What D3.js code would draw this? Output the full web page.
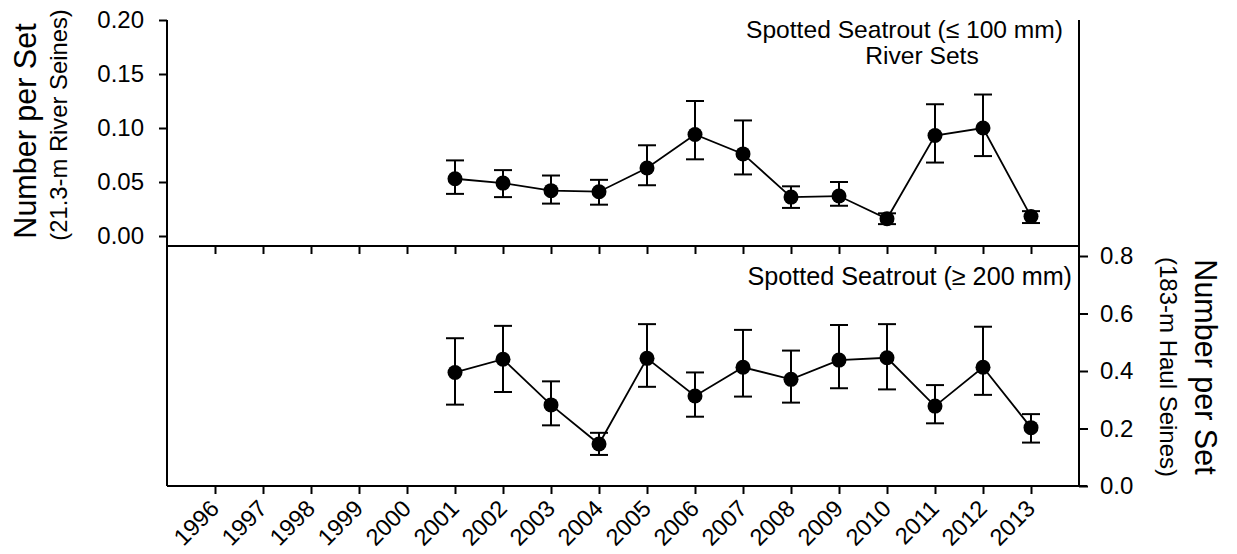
<!DOCTYPE html>
<html>
<head>
<meta charset="utf-8">
<script src="https://cdn.jsdelivr.net/npm/d3@7"></script>
<style>
  body { margin: 0; background: #fff; }
  svg text { font-family: "Liberation Sans", Arial, sans-serif; }
</style>
</head>
<body>
<svg id="chart" width="1237" height="554"></svg>
<script>
// years shown on the x axis
var years = [1996, 1997, 1998, 1999, 2000, 2001, 2002, 2003, 2004, 2005, 2006, 2007, 2008, 2009, 2010, 2011, 2012, 2013];

// top panel: spotted seatrout <= 100 mm, river sets
var riverYears = [2001, 2002, 2003, 2004, 2005, 2006, 2007, 2008, 2009, 2010, 2011, 2012, 2013];
var riverMean  = [0.053, 0.049, 0.042, 0.041, 0.063, 0.094, 0.076, 0.036, 0.037, 0.016, 0.093, 0.100, 0.018];
var riverHigh  = [0.070, 0.061, 0.056, 0.052, 0.084, 0.125, 0.107, 0.046, 0.050, 0.021, 0.122, 0.131, 0.023];
var riverLow   = [0.039, 0.036, 0.030, 0.029, 0.047, 0.071, 0.057, 0.026, 0.028, 0.011, 0.068, 0.074, 0.012];

// bottom panel: spotted seatrout >= 200 mm, haul seines
var haulYears = [2001, 2002, 2003, 2004, 2005, 2006, 2007, 2008, 2009, 2010, 2011, 2012, 2013];
var haulMean  = [0.395, 0.441, 0.282, 0.146, 0.444, 0.313, 0.413, 0.371, 0.438, 0.446, 0.278, 0.413, 0.203];
var haulHigh  = [0.514, 0.557, 0.364, 0.185, 0.563, 0.395, 0.543, 0.471, 0.560, 0.563, 0.351, 0.554, 0.250];
var haulLow   = [0.283, 0.327, 0.211, 0.108, 0.345, 0.241, 0.311, 0.290, 0.340, 0.336, 0.218, 0.317, 0.151];

var topTicks = [0, 0.05, 0.10, 0.15, 0.20];
var bottomTicks = [0, 0.2, 0.4, 0.6, 0.8];

var svg = d3.select("#chart");

var left = 167, right = 1079;
var topY0 = 20, midY = 246, botY = 486;

var x = d3.scaleLinear().domain([1995, 2014]).range([left, right]);
var yTop = d3.scaleLinear().domain([0, 0.2]).range([236, topY0]);
var yBot = d3.scaleLinear().domain([0, 0.8]).range([botY, 256]);

// frame lines
var frame = svg.append("g").attr("stroke", "#000").attr("stroke-width", 2);
frame.append("line").attr("x1", left).attr("x2", left).attr("y1", topY0).attr("y2", botY);
frame.append("line").attr("x1", right).attr("x2", right).attr("y1", topY0).attr("y2", botY);
frame.append("line").attr("x1", left).attr("x2", right).attr("y1", midY).attr("y2", midY);
frame.append("line").attr("x1", left).attr("x2", right + 8).attr("y1", botY).attr("y2", botY);

function styleAxis(size) {
  return function (g) {
    g.attr("font-family", null);
    g.select(".domain").remove();
    g.selectAll(".tick line").attr("stroke", "#000").attr("stroke-width", 2);
    g.selectAll(".tick text").attr("fill", "#000").style("font-size", size + "px");
  };
}

// left axis (top panel)
svg.append("g")
  .attr("transform", "translate(" + left + ",0)")
  .call(d3.axisLeft(yTop).tickValues(topTicks).tickFormat(d3.format(".2f")).tickSize(8).tickPadding(15))
  .call(styleAxis(24));

// right axis (bottom panel)
svg.append("g")
  .attr("transform", "translate(" + right + ",0)")
  .call(d3.axisRight(yBot).tickValues(bottomTicks).tickFormat(d3.format(".1f")).tickSize(9).tickPadding(12))
  .call(styleAxis(24));

// x ticks on the panel separator (no labels)
svg.append("g")
  .attr("transform", "translate(0," + midY + ")")
  .call(d3.axisBottom(x).tickValues(years).tickFormat("").tickSize(8))
  .call(styleAxis(24));

// x axis on the bottom
var xAxis = svg.append("g")
  .attr("transform", "translate(0," + botY + ")")
  .call(d3.axisBottom(x).tickValues(years).tickFormat(d3.format("d")).tickSize(8))
  .call(styleAxis(23.5));
xAxis.selectAll(".tick text")
  .attr("text-anchor", "end")
  .attr("dy", null)
  .attr("y", null)
  .attr("transform", "translate(5,24) rotate(-45)");

// series drawing
function drawSeries(xs, mean, hi, lo, y) {
  var g = svg.append("g");
  var pts = xs.map(function (d, i) { return {yr: d, m: mean[i], h: hi[i], l: lo[i]}; });
  g.selectAll("line.err").data(pts).join("line")
    .attr("class", "err")
    .attr("x1", function (d) { return x(d.yr); }).attr("x2", function (d) { return x(d.yr); })
    .attr("y1", function (d) { return y(d.h); }).attr("y2", function (d) { return y(d.l); })
    .attr("stroke", "#000").attr("stroke-width", 2);
  ["h", "l"].forEach(function (k) {
    g.selectAll("line.cap" + k).data(pts).join("line")
      .attr("class", "cap" + k)
      .attr("x1", function (d) { return x(d.yr) - 9; }).attr("x2", function (d) { return x(d.yr) + 9; })
      .attr("y1", function (d) { return y(d[k]); }).attr("y2", function (d) { return y(d[k]); })
      .attr("stroke", "#000").attr("stroke-width", 2);
  });
  g.append("path").datum(pts)
    .attr("fill", "none").attr("stroke", "#000").attr("stroke-width", 1.8)
    .attr("d", d3.line().x(function (d) { return x(d.yr); }).y(function (d) { return y(d.m); }));
  g.selectAll("circle").data(pts).join("circle")
    .attr("cx", function (d) { return x(d.yr); })
    .attr("cy", function (d) { return y(d.m); })
    .attr("r", 7.5).attr("fill", "#000");
}

drawSeries(riverYears, riverMean, riverHigh, riverLow, yTop);
drawSeries(haulYears, haulMean, haulHigh, haulLow, yBot);

// panel headers
svg.append("text").attr("x", 1063).attr("y", 38).attr("text-anchor", "end")
  .style("font-size", "24.6px").text("Spotted Seatrout (\u2264 100 mm)");
svg.append("text").attr("x", 922).attr("y", 64).attr("text-anchor", "middle")
  .style("font-size", "24.6px").text("River Sets");
svg.append("text").attr("x", 1072).attr("y", 285).attr("text-anchor", "end")
  .style("font-size", "25.2px").text("Spotted Seatrout (\u2265 200 mm)");

// y titles
svg.append("text").attr("transform", "translate(36,131) rotate(-90)")
  .attr("text-anchor", "middle").style("font-size", "30.5px").text("Number per Set");
svg.append("text").attr("transform", "translate(67,125) rotate(-90)")
  .attr("text-anchor", "middle").style("font-size", "23.8px").text("(21.3-m River Seines)");
svg.append("text").attr("transform", "translate(1195,367) rotate(90)")
  .attr("text-anchor", "middle").style("font-size", "30.5px").text("Number per Set");
svg.append("text").attr("transform", "translate(1160,367) rotate(90)")
  .attr("text-anchor", "middle").style("font-size", "24px").text("(183-m Haul Seines)");
</script>
</body>
</html>
